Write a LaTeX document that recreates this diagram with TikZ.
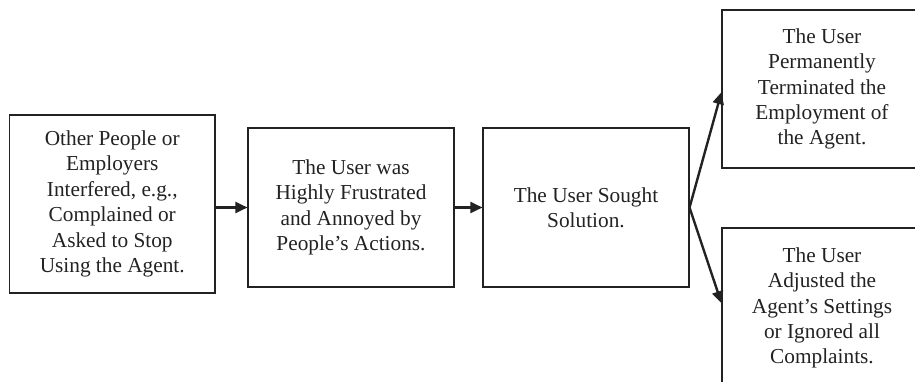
\documentclass[tikz,border=0pt]{standalone}
\usepackage{fontspec}
\setmainfont{Liberation Serif}
\usetikzlibrary{arrows.meta,calc}
\definecolor{ink}{HTML}{222222}
\begin{document}
\begin{tikzpicture}[x=1pt,y=-1pt,
  box/.style={draw=ink, line width=1.1pt, rectangle, inner sep=0pt,
    align=center, text=ink, font=\fontsize{21.3}{25.4}\selectfont},
  flow/.style={draw=ink, line width=2.4pt,
    -{Triangle[length=12pt,width=11pt]}}]
\useasboundingbox (0,0) rectangle (915,382);
\clip (0,0) rectangle (915,382);

\node[box, minimum width=205.5pt, minimum height=178pt] (b1) at (112.25,204)
  {Other People or\\Employers\\Interfered, e.g.,\\Complained or\\Asked to Stop\\Using the Agent.};
\node[box, minimum width=206pt, minimum height=159pt] (b2) at (351,207.5)
  {The User was\\Highly Frustrated\\and Annoyed by\\People’s Actions.};
\node[box, minimum width=206pt, minimum height=159pt] (b3) at (586,207.5)
  {The User Sought\\Solution.};
\node[box, minimum width=200pt, minimum height=158pt] (b4) at (822,89)
  {The User\\Permanently\\Terminated the\\Employment of\\the Agent.};
\node[box, minimum width=200pt, minimum height=160pt] (b5) at (822,308)
  {The User\\Adjusted the\\Agent’s Settings\\or Ignored all\\Complaints.};

\coordinate (t4) at ($(b4.north west)!0.52!(b4.south west)$);
\coordinate (t5) at ($(b5.north west)!0.47!(b5.south west)$);

\draw[flow] (b1.east |- b2.west) -- (b2.west);
\draw[flow] (b2.east) -- (b3.west);
\draw[flow] (b3.east) -- (t4);
\draw[flow] (b3.east) -- (t5);
\end{tikzpicture}
\end{document}
